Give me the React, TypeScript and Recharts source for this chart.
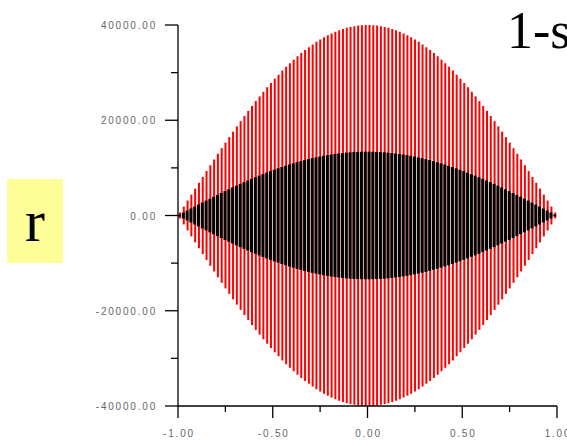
import React from 'react';
import { ComposedChart, Bar, XAxis, YAxis } from 'recharts';

// sample positions along x (one vertical stroke each)
const xs = [
  -0.99, -0.97, -0.95, -0.93, -0.91, -0.89, -0.87, -0.85, -0.83, -0.81,
  -0.79, -0.77, -0.75, -0.73, -0.71, -0.69, -0.67, -0.65, -0.63, -0.61,
  -0.59, -0.57, -0.55, -0.53, -0.51, -0.49, -0.47, -0.45, -0.43, -0.41,
  -0.39, -0.37, -0.35, -0.33, -0.31, -0.29, -0.27, -0.25, -0.23, -0.21,
  -0.19, -0.17, -0.15, -0.13, -0.11, -0.09, -0.07, -0.05, -0.03, -0.01,
  0.01, 0.03, 0.05, 0.07, 0.09, 0.11, 0.13, 0.15, 0.17, 0.19,
  0.21, 0.23, 0.25, 0.27, 0.29, 0.31, 0.33, 0.35, 0.37, 0.39,
  0.41, 0.43, 0.45, 0.47, 0.49, 0.51, 0.53, 0.55, 0.57, 0.59,
  0.61, 0.63, 0.65, 0.67, 0.69, 0.71, 0.73, 0.75, 0.77, 0.79,
  0.81, 0.83, 0.85, 0.87, 0.89, 0.91, 0.93, 0.95, 0.97, 0.99,
];

// red oscillation amplitude
const redAmp = [
  630, 1880, 3140, 4390, 5640, 6880, 8110, 9340, 10560, 11760,
  12960, 14140, 15310, 16460, 17600, 18720, 19820, 20900, 21960, 23000,
  24020, 25010, 25980, 26920, 27840, 28720, 29580, 30420, 31220, 31990,
  32720, 33430, 34100, 34750, 35350, 35920, 36460, 36960, 37420, 37840,
  38230, 38580, 38900, 39170, 39400, 39600, 39760, 39880, 39960, 40000,
  40000, 39960, 39880, 39760, 39600, 39400, 39170, 38900, 38580, 38230,
  37840, 37420, 36960, 36460, 35920, 35350, 34750, 34100, 33430, 32720,
  31990, 31220, 30420, 29580, 28720, 27840, 26920, 25980, 25010, 24020,
  23000, 21960, 20900, 19820, 18720, 17600, 16460, 15310, 14140, 12960,
  11760, 10560, 9340, 8110, 6880, 5640, 4390, 3140, 1880, 630,
];

// black oscillation amplitude
const blackAmp = [
  210, 630, 1050, 1470, 1890, 2300, 2720, 3130, 3540, 3940,
  4340, 4740, 5130, 5510, 5900, 6270, 6640, 7000, 7360, 7710,
  8050, 8380, 8700, 9020, 9330, 9620, 9910, 10190, 10460, 10720,
  10960, 11200, 11420, 11640, 11840, 12030, 12210, 12380, 12540, 12680,
  12810, 12920, 13030, 13120, 13200, 13270, 13320, 13360, 13390, 13400,
  13400, 13390, 13360, 13320, 13270, 13200, 13120, 13030, 12920, 12810,
  12680, 12540, 12380, 12210, 12030, 11840, 11640, 11420, 11200, 10960,
  10720, 10460, 10190, 9910, 9620, 9330, 9020, 8700, 8380, 8050,
  7710, 7360, 7000, 6640, 6270, 5900, 5510, 5130, 4740, 4340,
  3940, 3540, 3130, 2720, 2300, 1890, 1470, 1050, 630, 210,
];

const xTicks = [-1, -0.75, -0.5, -0.25, 0, 0.25, 0.5, 0.75, 1];
const yTicks = [-40000, -30000, -20000, -10000, 0, 10000, 20000, 30000, 40000];

const data = xs.map((x, i) => ({
  x,
  red: [-redAmp[i], redAmp[i]],
  black: [-blackAmp[i], blackAmp[i]],
}));

const labelStyle = {
  fontFamily: '"Liberation Sans Narrow", "Liberation Sans", sans-serif',
  fontSize: 10,
  letterSpacing: 1.8,
  fill: '#666',
};

const YTick = (props: any) => {
  const { x, y, payload } = props;
  const v = payload.value;
  const major = v % 20000 === 0;
  const ax = x + 13;
  return (
    <g>
      <line x1={ax - (major ? 13 : 7)} x2={ax} y1={y} y2={y} stroke="#000" strokeWidth={1.3} />
      {major && (
        <text x={ax - 21} y={y + 4} textAnchor="end" {...labelStyle}>
          {v.toFixed(2)}
        </text>
      )}
    </g>
  );
};

const XTick = (props: any) => {
  const { x, y, payload } = props;
  const v = payload.value;
  const major = Math.abs(v * 2 - Math.round(v * 2)) < 1e-9;
  const ay = y - 12;
  return (
    <g>
      <line x1={x} x2={x} y1={ay} y2={ay + (major ? 12 : 6)} stroke="#000" strokeWidth={1.3} />
      {major && (
        <text x={x + 1} y={ay + 31} textAnchor="middle" {...labelStyle}>
          {v.toFixed(2)}
        </text>
      )}
    </g>
  );
};

export default function App() {
  return (
    <div
      style={{
        position: 'absolute',
        left: 0,
        top: 0,
        width: 567,
        height: 447,
        overflow: 'hidden',
        background: '#ffffff',
      }}
    >
      <ComposedChart
        width={567}
        height={447}
        data={data}
        margin={{ top: 25, right: 10, left: 0, bottom: 0 }}
      >
        <XAxis
          xAxisId="a"
          dataKey="x"
          type="number"
          domain={[-1, 1]}
          ticks={xTicks}
          height={41}
          tickSize={12}
          tickMargin={0}
          tickLine={false}
          tick={<XTick />}
          axisLine={{ stroke: '#000', strokeWidth: 1.3 }}
          allowDataOverflow
        />
        <XAxis xAxisId="b" dataKey="x" type="number" domain={[-1, 1]} hide allowDataOverflow />
        <YAxis
          domain={[-40000, 40000]}
          ticks={yTicks}
          width={178}
          tickSize={13}
          tickMargin={0}
          tickLine={false}
          tick={<YTick />}
          axisLine={{ stroke: '#000', strokeWidth: 1.3 }}
          allowDataOverflow
        />
        <Bar xAxisId="a" dataKey="red" fill="#ff0000" barSize={2} isAnimationActive={false} />
        <Bar xAxisId="b" dataKey="black" fill="#000000" barSize={3} isAnimationActive={false} />
      </ComposedChart>
      <div
        style={{
          position: 'absolute',
          left: 7,
          top: 179,
          width: 56,
          height: 84,
          background: '#ffff99',
          fontFamily: '"Liberation Serif", serif',
          fontSize: 60,
          lineHeight: '84px',
          textAlign: 'center',
        }}
      >
        r
      </div>
      <div
        style={{
          position: 'absolute',
          left: 507,
          top: 0,
          fontFamily: '"Liberation Serif", serif',
          fontSize: 52,
          lineHeight: '62px',
          whiteSpace: 'nowrap',
        }}
      >
        1-s
      </div>
    </div>
  );
}
